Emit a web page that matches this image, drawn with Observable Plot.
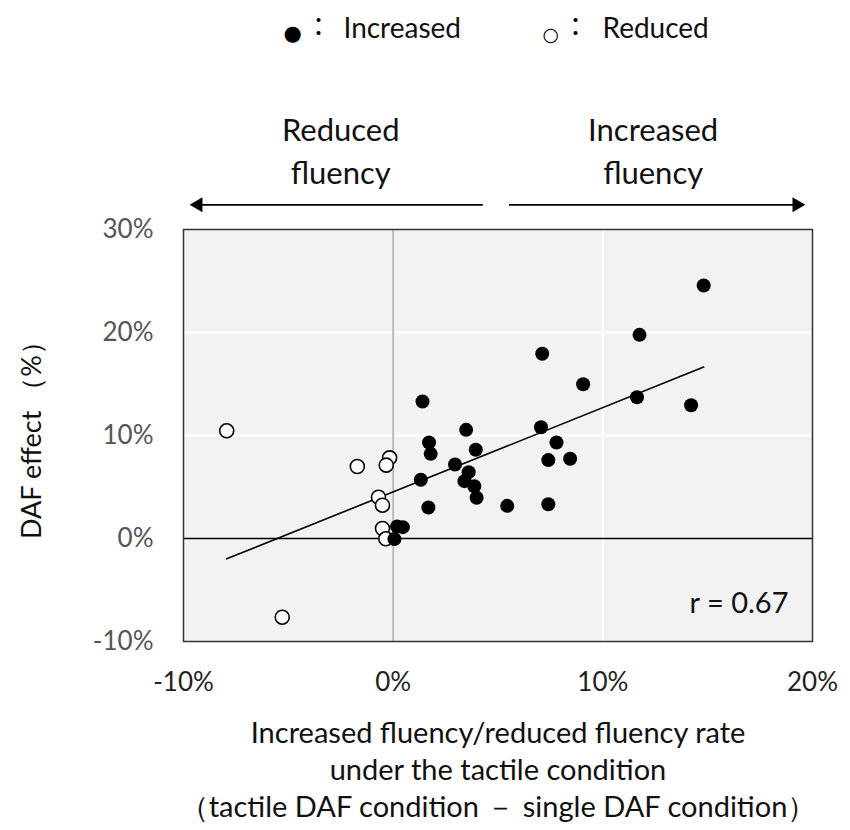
<!DOCTYPE html>
<html>
<head>
<meta charset="utf-8">
<script src="https://cdn.jsdelivr.net/npm/d3@7"></script>
<script src="https://cdn.jsdelivr.net/npm/@observablehq/plot@0.6"></script>
<style>
  html, body { margin: 0; padding: 0; background: #fff; }
  #chart svg { display: block; }
</style>
</head>
<body>
<div id="chart"></div>
<script>
// Increased fluency/reduced fluency rate (%) and DAF effect (%)
const increasedX = [1.40, 1.71, 1.79, 1.32, 1.68, 0.19, 0.46, 0.06, 3.48, 3.94, 2.95, 3.60, 3.40, 3.87, 3.98, 5.44, 7.05, 14.81, 11.75, 7.11, 9.06, 11.63, 14.21, 7.79, 7.40, 8.44, 7.40];
const increasedY = [13.3, 9.32, 8.22, 5.70, 3.01, 1.17, 1.10, -0.06, 10.55, 8.61, 7.18, 6.44, 5.57, 5.08, 3.95, 3.17, 10.8, 24.56, 19.77, 17.93, 14.98, 13.72, 12.94, 9.32, 7.61, 7.74, 3.33];
const reducedX = [-7.94, -1.71, -0.17, -0.33, -0.70, -0.51, -0.51, -0.35, -5.29];
const reducedY = [10.46, 6.99, 7.83, 7.12, 4.01, 3.23, 0.97, -0.03, -7.64];

const xTicks = [-10, 0, 10, 20];
const yTicks = [-10, 0, 10, 20, 30];
const xGrid = [10];
const yGrid = [10, 20];

const legendLabels = ["Increased", "Reduced"];
const headerLabels = ["Reduced\nfluency", "Increased\nfluency"];
const headerX = [-2.5, 12.4];
const headerY = 37.8;
const arrowsFrom = [4.3, 5.55];
const arrowsTo = [-9.3, 19.25];
const arrowRotate = [-90, 90];
const arrowY = 32.4;
const xLabel = "Increased fluency/reduced fluency rate\nunder the tactile condition\n（tactile DAF condition － single DAF condition）";
const yLabel = "DAF effect （%）";
const rLabel = "r = 0.67";

const increased = increasedX.map((x, i) => ({x, y: increasedY[i], group: "Increased"}));
const reduced = reducedX.map((x, i) => ({x, y: reducedY[i], group: "Reduced"}));
const all = [...increased, ...reduced];
const headers = headerLabels.map((t, i) => ({t, x: headerX[i], y: headerY}));
const arrows = arrowsFrom.map((x1, i) => ({x1, x2: arrowsTo[i], y: arrowY, rotate: arrowRotate[i]}));

const fmt = d => d + "%";
const font = "Lato, 'Open Sans', sans-serif";

const chart = Plot.plot({
  width: 850,
  height: 830,
  marginTop: 229,
  marginBottom: 189,
  marginLeft: 183,
  marginRight: 38,
  style: {fontFamily: font, background: "#fff", overflow: "visible"},
  x: {domain: [-10, 20], ticks: xTicks, tickFormat: fmt},
  y: {domain: [-10, 30], ticks: yTicks, tickFormat: fmt},
  marks: [
    Plot.frame({fill: "#f2f2f2", stroke: null}),
    Plot.ruleX(xGrid, {stroke: "#fff", strokeWidth: 2.5}),
    Plot.ruleY(yGrid, {stroke: "#fff", strokeWidth: 2.5}),
    Plot.ruleX([0], {stroke: "#bcbcbc", strokeWidth: 2}),
    Plot.ruleY([0], {stroke: "#000", strokeWidth: 1.5}),
    Plot.frame({stroke: "#333", strokeWidth: 1.5}),
    Plot.axisX({ticks: xTicks, tickFormat: fmt, tickSize: 0, tickPadding: 31, fontSize: 26, fill: "#222", label: null}),
    Plot.axisY({ticks: yTicks, tickFormat: fmt, tickSize: 0, tickPadding: 30, fontSize: 26, fill: "#555", label: null}),
    Plot.linearRegressionY(all, {x: "x", y: "y", ci: 0, stroke: "#000", strokeWidth: 1.6}),
    Plot.dot(reduced, {x: "x", y: "y", r: 7, fill: "#fff", stroke: "#000", strokeWidth: 1.6}),
    Plot.dot(increased, {x: "x", y: "y", r: 7, fill: "#000", stroke: null}),
    Plot.text([rLabel], {frameAnchor: "bottom-right", dx: -24, dy: -38, lineAnchor: "middle", fontSize: 29, fill: "#111", textAnchor: "end"}),
    Plot.text([yLabel], {frameAnchor: "left", dx: -151, dy: -2, rotate: -90, textAnchor: "middle", lineAnchor: "middle", fontSize: 27, fill: "#111"}),
    Plot.text([xLabel], {frameAnchor: "bottom", dy: 127, lineAnchor: "middle", lineHeight: 1.27, fontSize: 29, fill: "#111"}),
    Plot.text(headers, {x: "x", y: "y", text: "t", fontSize: 31, lineHeight: 1.39, fill: "#111"}),
    Plot.ruleY(arrows, {y: "y", x1: "x1", x2: "x2", stroke: "#000", strokeWidth: 1.8}),
    Plot.dot(arrows, {x: "x2", y: "y", symbol: "triangle", rotate: "rotate", r: 5.5, fill: "#000", stroke: null}),
    // legend
    Plot.text(["●"], {frameAnchor: "top-left", dx: 100, dy: -196, lineAnchor: "middle", fontSize: 21, fill: "#000", fontFamily: "DejaVu Sans"}),
    Plot.text(["："], {frameAnchor: "top-left", dx: 122, dy: -202, lineAnchor: "middle", fontSize: 26, fill: "#000", fontFamily: "Noto Sans CJK JP"}),
    Plot.text([legendLabels[0]], {frameAnchor: "top-left", dx: 160, dy: -200, lineAnchor: "middle", fontSize: 28, textAnchor: "start", fill: "#111"}),
    Plot.text(["○"], {frameAnchor: "top-left", dx: 359, dy: -195, lineAnchor: "middle", fontSize: 19, fill: "#000", fontFamily: "DejaVu Sans"}),
    Plot.text(["："], {frameAnchor: "top-left", dx: 379, dy: -202, lineAnchor: "middle", fontSize: 26, fill: "#000", fontFamily: "Noto Sans CJK JP"}),
    Plot.text([legendLabels[1]], {frameAnchor: "top-left", dx: 419, dy: -200, lineAnchor: "middle", fontSize: 28, textAnchor: "start", fill: "#111"})
  ]
});
document.getElementById("chart").appendChild(chart);
</script>
</body>
</html>
